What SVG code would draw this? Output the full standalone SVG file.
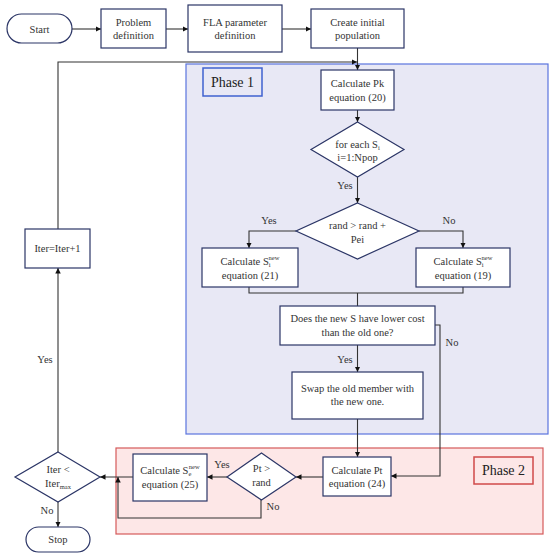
<svg xmlns="http://www.w3.org/2000/svg" width="550" height="558" viewBox="0 0 550 558">
<style>
.n{fill:#fff;stroke:#2b3566;stroke-width:1.2}
.c{fill:none;stroke:#333;stroke-width:1.1}
.t{font-family:"Liberation Serif","DejaVu Serif",serif;font-size:10.5px;fill:#333;text-anchor:middle}
.l{font-family:"Liberation Serif","DejaVu Serif",serif;font-size:10.5px;fill:#333;text-anchor:middle}
.s{font-size:6.5px}
.p{font-family:"Liberation Serif","DejaVu Serif",serif;font-size:14px;fill:#222;text-anchor:middle}
</style>
<defs>
<marker id="a" viewBox="0 0 10 10" refX="10" refY="5" markerWidth="5" markerHeight="5" orient="auto"><path d="M0,0 L10,5 L0,10 z" fill="#111"/></marker>
</defs>
<g id="phase1">
<rect x="186" y="64" width="362" height="370" fill="#e8e8f5" stroke="#5a74de" stroke-width="1.2"/>
<rect x="203" y="68" width="59" height="28" fill="#e8e8f5" stroke="#3f62cf" stroke-width="1.5"/>
<text class="p" x="232.5" y="87">Phase 1</text>
</g>
<g id="phase2">
<rect x="116" y="448" width="427" height="86" fill="#fde7e7" stroke="#d55a5a" stroke-width="1.2"/>
<rect x="474" y="457" width="59" height="27" fill="#fde7e7" stroke="#d04a4a" stroke-width="1.5"/>
<text class="p" x="503.5" y="475">Phase 2</text>
</g>
<g id="connectors">
<path class="c" d="M72,29 H101" marker-end="url(#a)"/>
<path class="c" d="M166,29 H188" marker-end="url(#a)"/>
<path class="c" d="M282,29 H311" marker-end="url(#a)"/>
<path class="c" d="M357.5,48 V70" marker-end="url(#a)"/>
<path class="c" d="M58,229 V62 H357" marker-end="url(#a)"/>
<path class="c" d="M357.5,110 V122" marker-end="url(#a)"/>
<path class="c" d="M357.5,177 V203" marker-end="url(#a)"/>
<text class="l" x="345" y="189">Yes</text>
<path class="c" d="M296,231 H249 V248" marker-end="url(#a)"/>
<path class="c" d="M419,231 H463 V248" marker-end="url(#a)"/>
<text class="l" x="269" y="224">Yes</text>
<text class="l" x="449" y="224">No</text>
<path class="c" d="M249,287 V293 H463 V287"/>
<path class="c" d="M357.5,293 V306"/>
<path class="c" d="M357.5,345 V372" marker-end="url(#a)"/>
<text class="l" x="345" y="363">Yes</text>
<path class="c" d="M435,325 H440 V476 H391" marker-end="url(#a)"/>
<text class="l" x="452" y="346">No</text>
<path class="c" d="M357.5,419 V457" marker-end="url(#a)"/>
<path class="c" d="M323,477 H296" marker-end="url(#a)"/>
<path class="c" d="M227,477 H207" marker-end="url(#a)"/>
<text class="l" x="222" y="468">Yes</text>
<path class="c" d="M261,500 V518 H118 V477" marker-end="url(#a)"/>
<text class="l" x="273" y="510">No</text>
<path class="c" d="M133,477 H100" marker-end="url(#a)"/>
<path class="c" d="M58,452 V268" marker-end="url(#a)"/>
<text class="l" x="45" y="363">Yes</text>
<path class="c" d="M58,502 V527" marker-end="url(#a)"/>
<text class="l" x="47" y="514">No</text>
</g>
<g id="start">
<rect class="n" x="7" y="14" width="65" height="29" rx="14.5"/>
<text class="t" x="39.5" y="32.5">Start</text>
</g>
<g id="problem">
<rect class="n" x="101" y="9" width="65" height="39"/>
<text class="t" x="133.5" y="26">Problem</text>
<text class="t" x="133.5" y="39">definition</text>
</g>
<g id="fla">
<rect class="n" x="188" y="5" width="94" height="47"/>
<text class="t" x="235" y="26">FLA parameter</text>
<text class="t" x="235" y="39">definition</text>
</g>
<g id="create">
<rect class="n" x="311" y="9" width="93" height="39"/>
<text class="t" x="357.5" y="26">Create initial</text>
<text class="t" x="357.5" y="39">population</text>
</g>
<g id="calcpk">
<rect class="n" x="321" y="70" width="73" height="40"/>
<text class="t" x="357.5" y="87">Calculate Pk</text>
<text class="t" x="357.5" y="101">equation (20)</text>
</g>
<g id="foreach">
<polygon class="n" points="357.5,122 404,149.5 357.5,177 311,149.5"/>
<text class="t" x="357.5" y="148">for each S<tspan class="s" dy="2">i</tspan></text>
<text class="t" x="357.5" y="161">i=1:Npop</text>
</g>
<g id="randcmp">
<polygon class="n" points="357.5,203 419,231 357.5,259 296,231"/>
<text class="t" x="357.5" y="229">rand &gt; rand +</text>
<text class="t" x="357.5" y="243">Pei</text>
</g>
<g id="calc21">
<rect class="n" x="202" y="248" width="96" height="39"/>
<text class="t" x="250" y="265">Calculate S<tspan class="s" dy="2">i</tspan><tspan class="s" dx="-2" dy="-7">new</tspan></text>
<text class="t" x="250" y="279">equation (21)</text>
</g>
<g id="calc19">
<rect class="n" x="416" y="248" width="94" height="39"/>
<text class="t" x="463" y="265">Calculate S<tspan class="s" dy="2">i</tspan><tspan class="s" dx="-2" dy="-7">new</tspan></text>
<text class="t" x="463" y="279">equation (19)</text>
</g>
<g id="lowercost">
<rect class="n" x="280" y="306" width="155" height="39"/>
<text class="t" x="357.5" y="322">Does the new S have lower cost</text>
<text class="t" x="357.5" y="336">than the old one?</text>
</g>
<g id="swap">
<rect class="n" x="292" y="372" width="131" height="47"/>
<text class="t" x="357.5" y="392">Swap the old member with</text>
<text class="t" x="357.5" y="405">the new one.</text>
</g>
<g id="calcpt">
<rect class="n" x="323" y="457" width="68" height="39"/>
<text class="t" x="357" y="474">Calculate Pt</text>
<text class="t" x="357" y="487">equation (24)</text>
</g>
<g id="ptrand">
<polygon class="n" points="261.5,453 296,477 261.5,500 227,477"/>
<text class="t" x="261.5" y="472">Pt &gt;</text>
<text class="t" x="261.5" y="486">rand</text>
</g>
<g id="calc25">
<rect class="n" x="133" y="454" width="74" height="47"/>
<text class="t" x="170" y="474">Calculate S<tspan class="s" dy="2">e</tspan><tspan class="s" dx="-2.5" dy="-7">new</tspan></text>
<text class="t" x="170" y="488">equation (25)</text>
</g>
<g id="iterdiamond">
<polygon class="n" points="58,452 100,477 58,502 15,477"/>
<text class="t" x="58" y="473">Iter &lt;</text>
<text class="t" x="58" y="487">Iter<tspan class="s" dy="2">max</tspan></text>
</g>
<g id="iterinc">
<rect class="n" x="25" y="229" width="65" height="39"/>
<text class="t" x="57.5" y="252">Iter=Iter+1</text>
</g>
<g id="stop">
<rect class="n" x="26" y="527" width="64" height="25" rx="12.5"/>
<text class="t" x="58" y="543">Stop</text>
</g>
</svg>
